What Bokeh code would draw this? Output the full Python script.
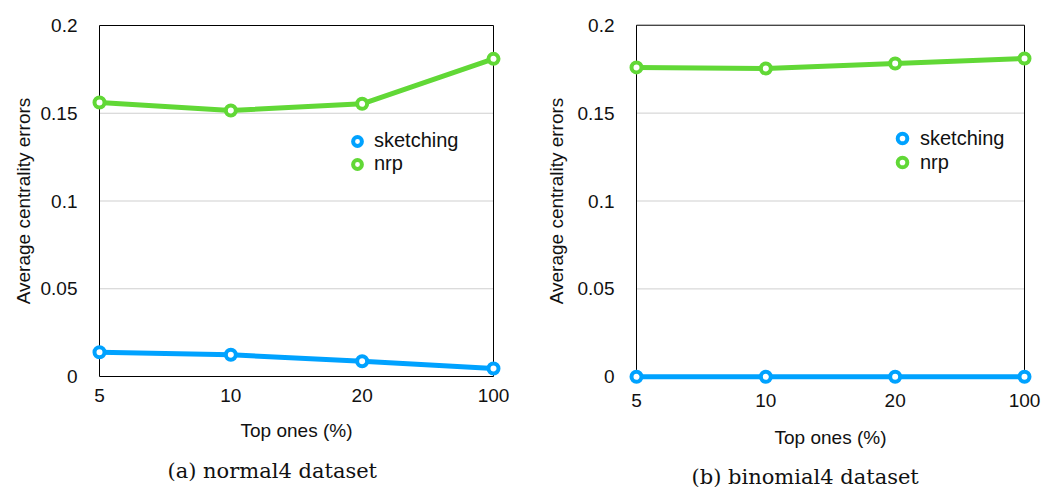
from bokeh.plotting import figure
from bokeh.layouts import row, column
from bokeh.models import Range1d, FixedTicker, Legend, LegendItem, Label
from bokeh.embed import file_html
from bokeh.resources import INLINE

# ---- data ----
x_labels = ["5", "10", "20", "100"]
normal4_sketching = [0.0138, 0.0124, 0.0087, 0.0046]
normal4_nrp = [0.1561, 0.1516, 0.1554, 0.1810]
binomial4_sketching = [0.0, 0.0, 0.0, 0.0]
binomial4_nrp = [0.1760, 0.1754, 0.1782, 0.1811]
y_ticks = [0, 0.05, 0.1, 0.15, 0.2]
y_tick_labels = ["0", "0.05", "0.1", "0.15", "0.2"]
series_names = ["sketching", "nrp"]
captions = ["(a) normal4 dataset", "(b) binomial4 dataset"]
x_title = "Top ones (%)"
y_title = "Average centrality errors"

BLUE = "#00A2FF"
GREEN = "#61D836"
SANS = "Liberation Sans"
PAD = 12
MAIN_H = 455
CAP_H = 32


def make_panel(W, H, box, sk, nrp, leg_xy, leg_gh, leg_spacing,
               tick_standoff, xlab_standoff, ylab_standoff):
    L, R, T, B = box
    xs = list(range(len(x_labels)))
    x0, x1 = xs[0], xs[-1]
    y0, y1 = y_ticks[0], y_ticks[-1]
    padx = PAD * (x1 - x0) / (R - L)
    pady = PAD * (y1 - y0) / (B - T)
    p = figure(width=W, height=H, output_backend="svg", toolbar_location=None,
               x_range=Range1d(x0 - padx, x1 + padx),
               y_range=Range1d(y0 - pady, y1 + pady),
               min_border_left=L - PAD, min_border_right=W - R - PAD,
               min_border_top=T - PAD, min_border_bottom=H - B - PAD)
    p.outline_line_color = None
    p.grid.visible = False
    p.background_fill_color = "white"
    p.border_fill_color = "white"

    # grid lines
    gy = y_ticks[1:-1]
    p.segment(x0=[x0] * len(gy), x1=[x1] * len(gy), y0=gy, y1=gy,
              line_color="#cfcfcf", line_width=1)
    # box
    p.segment(x0=[x0, x1, x0, x0], x1=[x0, x1, x1, x1], y0=[y0, y0, y0, y1], y1=[y1, y1, y0, y1],
              line_color="black", line_width=1)

    items = []
    for vals, col, name in [(sk, BLUE, series_names[0]), (nrp, GREEN, series_names[1])]:
        p.line(xs, vals, line_color=col, line_width=5)
        r = p.scatter(xs, vals, marker="circle", size=10, fill_color="white",
                      line_color=col, line_width=4)
        items.append(LegendItem(label=name, renderers=[r]))

    leg = Legend(items=items, location=leg_xy, padding=0, margin=0, spacing=leg_spacing,
                 glyph_width=leg_gh, glyph_height=leg_gh, label_height=leg_gh, label_standoff=6,
                 border_line_color=None, background_fill_alpha=0,
                 label_text_font=SANS, label_text_font_size="20px", label_text_color="#111111")
    p.add_layout(leg)

    # axes
    p.xaxis.ticker = FixedTicker(ticks=xs)
    p.xaxis.major_label_overrides = {x: lab for x, lab in zip(xs, x_labels)}
    p.yaxis.ticker = FixedTicker(ticks=y_ticks)
    p.yaxis.major_label_overrides = {v: s for v, s in zip(y_ticks, y_tick_labels)}
    for ax in (p.xaxis[0], p.yaxis[0]):
        ax.axis_line_color = None
        ax.major_tick_line_color = None
        ax.minor_tick_line_color = None
        ax.major_label_text_font = SANS
        ax.major_label_text_font_size = "19px"
        ax.major_label_text_color = "#111111"
        ax.axis_label_text_font = SANS
        ax.axis_label_text_font_size = "19px"
        ax.axis_label_text_font_style = "normal"
        ax.axis_label_text_color = "#111111"
    p.xaxis.axis_label = x_title
    p.yaxis.axis_label = y_title
    p.yaxis.major_label_standoff = 4
    p.yaxis.axis_label_standoff = ylab_standoff
    p.xaxis.major_label_standoff = tick_standoff
    p.xaxis.axis_label_standoff = xlab_standoff
    return p


def make_caption(W, H, text, cx, cy):
    c = figure(width=W, height=H, output_backend="svg", toolbar_location=None,
               x_axis_type=None, y_axis_type=None, min_border=0,
               x_range=Range1d(0, W), y_range=Range1d(0, H))
    c.outline_line_color = None
    c.grid.visible = False
    c.add_layout(Label(x=cx, y=cy, x_units="screen", y_units="screen", text=text,
                       text_align="left", text_baseline="middle",
                       text_font="DejaVu Serif", text_font_size="21px", text_color="#111111"))
    return c


p1 = make_panel(520, MAIN_H, (99, 493, 25, 376), normal4_sketching, normal4_nrp,
                (259, 213), 22, -2, -6, 15, 4)
p2 = make_panel(524, MAIN_H, (116, 504, 19, 379), binomial4_sketching, binomial4_nrp,
                (266, 214), 24, 0, -1, 17, 8)
c1 = make_caption(520, CAP_H, captions[0], 167, CAP_H - (470 - MAIN_H))
c2 = make_caption(524, CAP_H, captions[1], 171, CAP_H - (476 - MAIN_H))

layout = column(row(p1, p2), row(c1, c2))
open("out.html", "w").write(file_html(layout, INLINE))
